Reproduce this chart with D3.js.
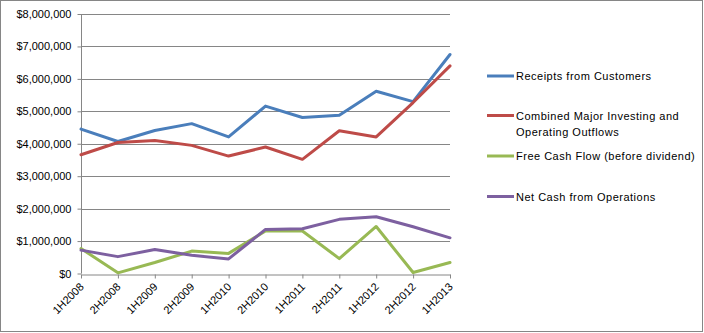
<!DOCTYPE html>
<html>
<head>
<meta charset="utf-8">
<script src="https://cdn.jsdelivr.net/npm/d3@7/dist/d3.min.js"></script>
<style>
  html, body { margin: 0; padding: 0; background: #fff; }
  svg { display: block; font-family: "Liberation Sans", Arial, sans-serif; }
</style>
</head>
<body>
<div id="chart"></div>
<script>
// Half-year periods along the x axis
const periods = ["1H2008", "2H2008", "1H2009", "2H2009", "1H2010", "2H2010",
                 "1H2011", "2H2011", "1H2012", "2H2012", "1H2013"];

// Series values in dollars
const receipts = [4450000, 4070000, 4410000, 4620000, 4210000, 5160000,
                  4810000, 4880000, 5620000, 5300000, 6750000];
const outflows = [3660000, 4040000, 4100000, 3950000, 3620000, 3900000,
                  3520000, 4400000, 4210000, 5270000, 6400000];
const freeCash = [770000, 20000, 340000, 690000, 620000, 1310000,
                  1310000, 460000, 1450000, 30000, 340000];
const netCash  = [720000, 520000, 740000, 560000, 450000, 1360000,
                  1380000, 1670000, 1750000, 1440000, 1100000];

const seriesNames = ["Receipts from Customers",
                     "Combined Major Investing and Operating Outflows",
                     "Free Cash Flow (before dividend)",
                     "Net Cash from Operations"];
const seriesColors = ["#4A7EBB", "#BE4B48", "#98B954", "#7D60A0"];

// Value axis ticks
const yTicks = [0, 1000000, 2000000, 3000000, 4000000, 5000000, 6000000, 7000000, 8000000];

const W = 704, H = 333;
const plot = { left: 81, right: 450, top: 14, bottom: 273.5 };

const svg = d3.select("#chart").append("svg")
  .attr("width", W).attr("height", H);

// Outer chart frame
svg.append("rect")
  .attr("x", 0.5).attr("y", 0.5)
  .attr("width", W - 2).attr("height", H - 2)
  .attr("fill", "#fff").attr("stroke", "#868686").attr("stroke-width", 1);

const x = d3.scalePoint().domain(periods).range([plot.left, plot.right]);
const y = d3.scaleLinear().domain([0, 8000000]).range([plot.bottom, plot.top]);

const fmt = v => "$" + d3.format(",")(v);

// Horizontal gridlines
svg.append("g").selectAll("line")
  .data(yTicks.filter(t => t > 0))
  .join("line")
  .attr("x1", plot.left).attr("x2", plot.right)
  .attr("y1", d => Math.round(y(d)) + 0.5).attr("y2", d => Math.round(y(d)) + 0.5)
  .attr("stroke", "#868686").attr("stroke-width", 1);

// Value axis
const yAxis = svg.append("g")
  .attr("transform", `translate(${plot.left + 0.5},0)`)
  .call(d3.axisLeft(y).tickValues(yTicks).tickFormat(fmt).tickSize(4).tickPadding(6));
yAxis.select(".domain").attr("stroke", "#868686").attr("d", `M0,${plot.top}V${plot.bottom}`);
yAxis.selectAll(".tick line").attr("stroke", "#868686");
yAxis.selectAll(".tick text")
  .attr("font-size", "11px").attr("fill", "#000")
  .attr("font-family", "Liberation Sans, Arial, sans-serif");

// Category axis
const xAxis = svg.append("g")
  .attr("transform", `translate(0,${Math.round(plot.bottom) + 0.5})`)
  .call(d3.axisBottom(x).tickSize(4).tickSizeOuter(0));
xAxis.select(".domain").attr("stroke", "#868686");
xAxis.selectAll(".tick line").attr("stroke", "#868686");
xAxis.selectAll(".tick text")
  .attr("font-size", "11px").attr("fill", "#000")
  .attr("font-family", "Liberation Sans, Arial, sans-serif")
  .attr("text-anchor", "end")
  .attr("dy", null).attr("y", 0)
  .attr("transform", "translate(3,13) rotate(-45)");

// Series lines
const allSeries = [receipts, outflows, freeCash, netCash];
const line = d3.line().x((d, i) => x(periods[i])).y(d => y(d));

svg.append("g").selectAll("path")
  .data(allSeries)
  .join("path")
  .attr("d", d => line(d))
  .attr("fill", "none")
  .attr("stroke", (d, i) => seriesColors[i])
  .attr("stroke-width", 3)
  .attr("stroke-linejoin", "round")
  .attr("stroke-linecap", "round");

// Legend
const legendItems = [
  { lines: [seriesNames[0]], y: 76 },
  { lines: ["Combined Major Investing and", "Operating Outflows"], y: 115.5 },
  { lines: [seriesNames[2]], y: 156 },
  { lines: [seriesNames[3]], y: 196.5 }
];
const legend = svg.append("g");
legendItems.forEach((item, i) => {
  legend.append("line")
    .attr("x1", 487).attr("x2", 514)
    .attr("y1", item.y).attr("y2", item.y)
    .attr("stroke", seriesColors[i]).attr("stroke-width", 3);
  const t = legend.append("text")
    .attr("x", 516).attr("y", item.y + 4)
    .attr("font-size", "11px").attr("fill", "#000")
    .attr("letter-spacing", "0.5px");
  item.lines.forEach((s, k) => {
    t.append("tspan").attr("x", 516).attr("dy", k === 0 ? 0 : 16).text(s);
  });
});
</script>
</body>
</html>
